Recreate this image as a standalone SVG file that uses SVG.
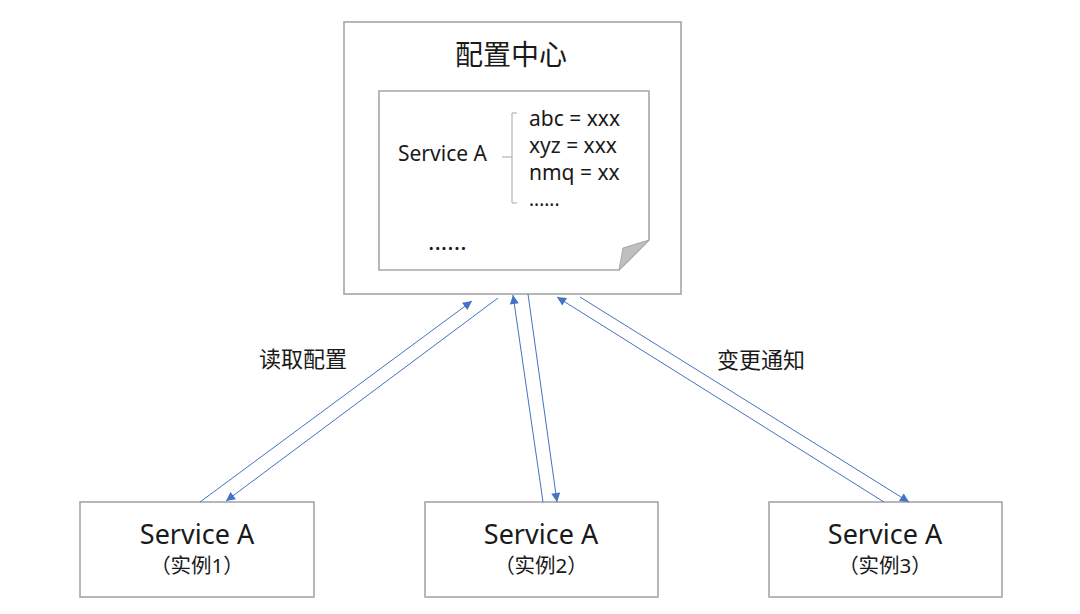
<svg xmlns="http://www.w3.org/2000/svg" width="1080" height="614" viewBox="0 0 1080 614">
<style>
.box{fill:#fff;stroke:#a6a6a6;stroke-width:1.6}
.t{font-family:"Noto Sans","Noto Sans CJK SC",sans-serif;fill:#1a1a1a}
.c{stroke:#4472c4;stroke-width:1;fill:none;marker-end:url(#ah)}
</style>
<defs>
<marker id="ah" viewBox="0 0 10 10" refX="10" refY="5" markerWidth="11" markerHeight="9" markerUnits="userSpaceOnUse" orient="auto">
<path d="M0,0 L10,5 L0,10 z" fill="#4472c4"/>
</marker>
</defs>
<rect width="1080" height="614" fill="#fff"/>
<g id="config-center">
<rect class="box" x="344" y="22" width="337" height="272"/>
<text class="t" x="511" y="65" font-size="28" text-anchor="middle">配置中心</text>
<path d="M379,91 H649 V240 L619,270 H379 Z" fill="#fff" stroke="#a6a6a6" stroke-width="1.6"/>
<path d="M649,240 L619,270 L623,248 Z" fill="#bfbfbf" stroke="#a6a6a6" stroke-width="1"/>
<text class="t" x="398" y="161" font-size="21">Service A</text>
<path d="M502,157 H512 M517,113 H512 V203 H517" fill="none" stroke="#a6a6a6" stroke-width="1"/>
<text class="t" x="529" y="126" font-size="21">abc = xxx</text>
<text class="t" x="529" y="153" font-size="21">xyz = xxx</text>
<text class="t" x="529" y="180" font-size="21">nmq = xx</text>
<text class="t" x="529" y="206" font-size="19">......</text>
<text class="t" x="428" y="250" font-size="24">......</text>
</g>
<g id="instance1">
<rect class="box" x="80" y="502" width="234" height="95"/>
<text class="t" x="197" y="544" font-size="27" text-anchor="middle">Service A</text>
<text class="t" x="197" y="573" font-size="20.5" text-anchor="middle">（实例1）</text>
</g>
<g id="instance2">
<rect class="box" x="425" y="502" width="233" height="95"/>
<text class="t" x="541" y="544" font-size="27" text-anchor="middle">Service A</text>
<text class="t" x="541" y="573" font-size="20.5" text-anchor="middle">（实例2）</text>
</g>
<g id="instance3">
<rect class="box" x="769" y="502" width="233" height="95"/>
<text class="t" x="885" y="544" font-size="27" text-anchor="middle">Service A</text>
<text class="t" x="885" y="573" font-size="20.5" text-anchor="middle">（实例3）</text>
</g>
<g id="connectors">
<line class="c" x1="200" y1="502" x2="472" y2="301"/>
<line class="c" x1="498" y1="298" x2="226" y2="501"/>
<line class="c" x1="543" y1="502" x2="513" y2="295"/>
<line class="c" x1="528" y1="294" x2="557" y2="502"/>
<line class="c" x1="884" y1="502" x2="557" y2="297"/>
<line class="c" x1="580" y1="297" x2="909" y2="502"/>
<text class="t" x="303" y="367" font-size="22" text-anchor="middle">读取配置</text>
<text class="t" x="761" y="368" font-size="22" text-anchor="middle">变更通知</text>
</g>
</svg>
